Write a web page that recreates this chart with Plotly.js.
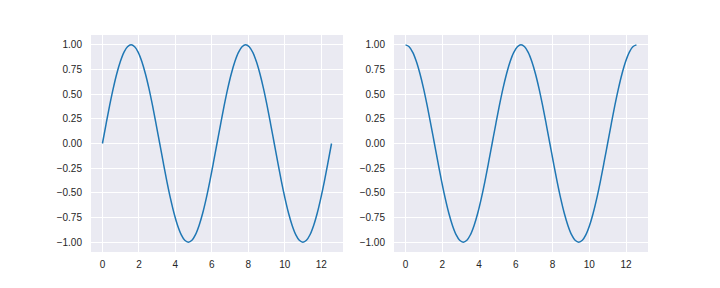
<!DOCTYPE html>
<html>
<head>
<meta charset="utf-8">
<script src="https://cdn.plot.ly/plotly-3.0.1.min.js"></script>
<style>html,body{margin:0;padding:0;background:#fff;}#chart{width:720px;height:288px;}</style>
</head>
<body>
<div id="chart"></div>
<script>
const xValues = [0, 0.196, 0.393, 0.589, 0.785, 0.982, 1.178, 1.374, 1.571, 1.767, 1.963, 2.160, 2.356, 2.553, 2.749, 2.945, 3.142, 3.338, 3.534, 3.731, 3.927, 4.123, 4.320, 4.516, 4.712, 4.909, 5.105, 5.301, 5.498, 5.694, 5.890, 6.087, 6.283, 6.480, 6.676, 6.872, 7.069, 7.265, 7.461, 7.658, 7.854, 8.050, 8.247, 8.443, 8.639, 8.836, 9.032, 9.228, 9.425, 9.621, 9.817, 10.014, 10.210, 10.407, 10.603, 10.799, 10.996, 11.192, 11.388, 11.585, 11.781, 11.977, 12.174, 12.370, 12.566];
const sinValues = [0, 0.195, 0.383, 0.556, 0.707, 0.831, 0.924, 0.981, 1, 0.981, 0.924, 0.831, 0.707, 0.556, 0.383, 0.195, 0, -0.195, -0.383, -0.556, -0.707, -0.831, -0.924, -0.981, -1, -0.981, -0.924, -0.831, -0.707, -0.556, -0.383, -0.195, 0, 0.195, 0.383, 0.556, 0.707, 0.831, 0.924, 0.981, 1, 0.981, 0.924, 0.831, 0.707, 0.556, 0.383, 0.195, 0, -0.195, -0.383, -0.556, -0.707, -0.831, -0.924, -0.981, -1, -0.981, -0.924, -0.831, -0.707, -0.556, -0.383, -0.195, 0];
const cosValues = [1, 0.981, 0.924, 0.831, 0.707, 0.556, 0.383, 0.195, 0, -0.195, -0.383, -0.556, -0.707, -0.831, -0.924, -0.981, -1, -0.981, -0.924, -0.831, -0.707, -0.556, -0.383, -0.195, 0, 0.195, 0.383, 0.556, 0.707, 0.831, 0.924, 0.981, 1, 0.981, 0.924, 0.831, 0.707, 0.556, 0.383, 0.195, 0, -0.195, -0.383, -0.556, -0.707, -0.831, -0.924, -0.981, -1, -0.981, -0.924, -0.831, -0.707, -0.556, -0.383, -0.195, 0, 0.195, 0.383, 0.556, 0.707, 0.831, 0.924, 0.981, 1];
const xTicks = [0, 2, 4, 6, 8, 10, 12];
const yTicks = [-1.00, -0.75, -0.50, -0.25, 0.00, 0.25, 0.50, 0.75, 1.00];

const lineStyle = {color: '#1f77b4', width: 1.5, shape: 'spline', smoothing: 1};
const traces = [
  {x: xValues, y: sinValues, mode: 'lines', line: lineStyle, xaxis: 'x', yaxis: 'y', hoverinfo: 'skip'},
  {x: xValues, y: cosValues, mode: 'lines', line: lineStyle, xaxis: 'x2', yaxis: 'y2', hoverinfo: 'skip'}
];
const font = {family: 'Liberation Sans, Arial, sans-serif', size: 10, color: '#262626'};
function xa(domain, anchor) {
  return {domain: domain, anchor: anchor, range: [-0.628, 13.195], tickvals: xTicks, ticktext: xTicks.map(String),
    showgrid: true, gridcolor: '#ffffff', gridwidth: 1, zeroline: false, showline: false, ticks: '',
    ticklabelstandoff: 5, tickfont: font};
}
function ya(anchor) {
  return {domain: [0, 1], anchor: anchor, range: [-1.1, 1.1], tickvals: yTicks, tickformat: '.2f',
    showgrid: true, gridcolor: '#ffffff', gridwidth: 1, zeroline: false, showline: false, ticks: '',
    ticklabelstandoff: 8, tickfont: font};
}
const layout = {
  width: 720, height: 288,
  margin: {l: 91, r: 72, t: 35, b: 36},
  paper_bgcolor: '#ffffff', plot_bgcolor: '#EAEAF2',
  showlegend: false, font: font,
  xaxis: xa([0, 0.4524], 'y'),
  yaxis: ya('x'),
  xaxis2: xa([0.544, 1], 'y2'),
  yaxis2: ya('x2'),
  shapes: [
    {type: 'rect', xref: 'x2 domain', yref: 'y2 domain', x0: 0, x1: 1, y0: 0, y1: 1, fillcolor: '#EAEAF2', line: {width: 0}, layer: 'below'}
  ]
};
Plotly.newPlot('chart', traces, layout, {staticPlot: true, displayModeBar: false});
</script>
</body>
</html>
